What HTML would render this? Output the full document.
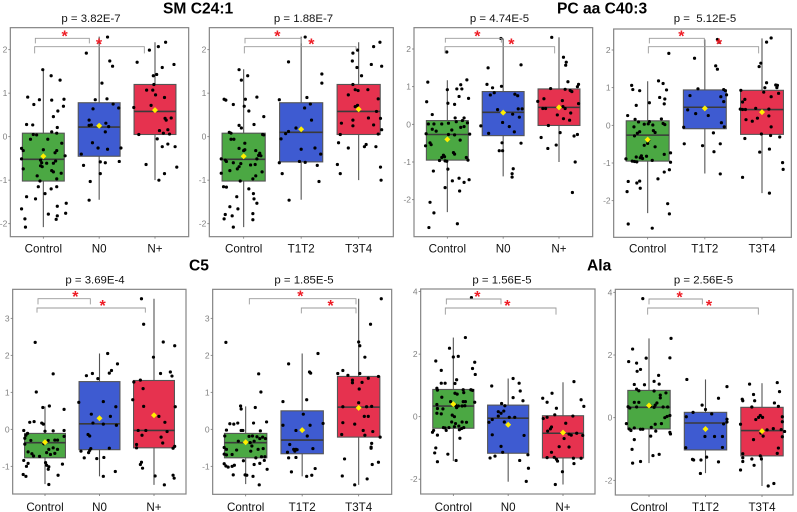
<!DOCTYPE html>
<html lang="en">
<head>
<meta charset="utf-8">
<title>Box plots of metabolites by group</title>
<style>
html,body{margin:0;padding:0;background:#fff;}
svg{display:block;font-family:"Liberation Sans",sans-serif;}
.head{font-size:15.6px;font-weight:bold;fill:#000;}
.pval{font-size:11.4px;fill:#111;text-anchor:middle;}
</style>
</head>
<body>
<svg id="chart" width="797" height="512" viewBox="0 0 797 512" xmlns="http://www.w3.org/2000/svg">
<rect width="797" height="512" fill="#fff"/>
<text class="head" x="163" y="13.5">SM C24:1</text>
<text class="head" x="557" y="13.5">PC aa C40:3</text>
<text class="head" x="189" y="270.5">C5</text>
<text class="head" x="587" y="270.5">Ala</text>
<text class="pval" x="91" y="22">p = 3.82E-7</text>
<text class="pval" x="303.500" y="22">p = 1.88E-7</text>
<text class="pval" x="499.500" y="22">p = 4.74E-5</text>
<text class="pval" x="705" y="22">p =&#160;&#160;5.12E-5</text>
<text class="pval" x="95" y="283.500">p = 3.69E-4</text>
<text class="pval" x="304" y="283.500">p = 1.85E-5</text>
<text class="pval" x="502" y="283.500">p = 1.56E-5</text>
<text class="pval" x="703.500" y="283.500">p = 2.56E-5</text>
<g id="panels"></g>
</svg>
<script>
const nCategories=['Control','N0','N+'];
const tCategories=['Control','T1T2','T3T4'];
const ticksA=[-2,-1,0,1,2];
const ticksB=[-1,0,1,2,3];
const ticksC=[-2,0,2,4];

/* box stats: low whisker, q1, median, q3, high whisker, mean */
const p1Box=[[-2.08,-1.02,-.52,.08,1.55,-.45],[-1.45,-.45,.22,.78,2.3,.25],[-1,.05,.58,1.2,2.17,.61]];
const p2Box=[[-2.08,-1.02,-.52,.08,1.55,-.45],[-1.45,-.58,.1,.78,2.3,.17],[-1,.05,.58,1.2,2.17,.63]];
const p3Box=[[-2.33,-.95,-.27,.1,1.17,-.4],[-1.38,-.3,.32,.87,2.28,.31],[-1,-.03,.45,.94,2.31,.45]];
const p4Box=[[-2.33,-.95,-.26,.12,1.17,-.38],[-1.28,-.09,.48,.94,2.28,.45],[-1.8,-.24,.42,.93,2.31,.35]];
const p5Box=[[-1.48,-.77,-.36,-.11,.62,-.35],[-1.27,-.55,.15,1.29,2.05,.3],[-1.5,-.5,-.03,1.32,3.53,.38]];
const p6Box=[[-1.48,-.77,-.36,-.11,.62,-.35],[-1.27,-.66,-.29,.5,2.05,-.02],[-1.5,-.21,.6,1.43,3.53,.58]];
const p7Box=[[-1.42,-.37,.34,.87,2.53,.4],[-2.08,-1.17,-.05,.37,1.22,-.26],[-2.17,-1.32,-.53,.03,1.1,-.51]];
const p8Box=[[-1.45,-.36,.33,.87,2.53,.39],[-1.77,-1.03,-.17,.17,1.22,-.36],[-2.18,-1.22,-.41,.33,1.1,-.43]];

/* observations: [horizontal jitter in category units, value] */
const p1Control=[[-.01,1.54],[.14,1.4],[.3,1.3],[-.28,.91],[-.07,.85],[-.17,.74],[.15,.84],[.37,.86],[.36,.7],[.26,.59],[.18,.46],[-.3,.28],[-.19,.27],[.25,.21],[.15,.11],[.24,.08],[-.18,.05],[-.12,.04],[-.23,-.06],[.08,-.06],[.33,-.15],[-.39,-.27],[-.36,-.32],[0,-.3],[.24,-.32],[.21,-.37],[.39,-.44],[-.39,-.51],[-.05,-.54],[-.03,-.6],[.06,-.61],[.18,-.61],[.22,-.56],[-.05,-.67],[-.02,-.69],[-.36,-.74],[.15,-.78],[.18,-.81],[.32,-.84],[-.11,-.9],[.24,-.97],[-.06,-1.02],[-.09,-1.15],[.24,-1.15],[.14,-1.2],[.03,-1.31],[-.3,-1.38],[-.14,-1.43],[.41,-1.53],[.25,-1.6],[-.39,-1.66],[.09,-1.78],[.25,-1.82],[.4,-1.76],[-.33,-1.89],[.23,-1.9],[-.32,-2.08]];
const p1N0=[[.15,2.29],[-.23,1.92],[.19,1.74],[.24,1.62],[.05,1.23],[-.07,.85],[.14,.87],[.25,.75],[.35,.66],[-.11,.64],[-.18,.38],[-.18,.26],[-.14,.27],[.12,.31],[.17,.23],[.11,.11],[-.12,-.14],[-.02,-.26],[.15,-.29],[.39,-.26],[-.32,-.4],[-.28,-.66],[.02,-.58],[.11,-.6],[.36,-.57],[.02,-.85],[-.16,-1.03],[-.18,-1.46]];
const p1Nplus=[[.19,2.17],[.06,2.07],[-.1,1.99],[-.32,1.71],[.34,1.66],[.13,1.59],[.03,1.43],[-.03,1.4],[-.02,1.2],[-.15,1.07],[-.04,1.07],[.01,.96],[.17,.9],[-.38,.67],[-.07,.72],[.18,.42],[.2,.38],[.29,.43],[.08,.14],[.23,.16],[.15,.08],[.26,.06],[-.29,.05],[.04,-.05],[.23,-.17],[.13,-.23],[.36,-.23],[-.16,-.64],[.39,-.7],[.17,-.85],[.07,-1]];

const p2Control=[[-.08,1.54],[.07,1.4],[-.04,1.3],[.23,.91],[-.34,.86],[-.31,.84],[.03,.86],[-.18,.74],[.01,.7],[.09,.59],[.35,.46],[.18,.28],[-.08,.26],[-.04,.2],[-.25,.1],[-.22,.08],[.33,.05],[.35,.04],[-.22,-.06],[-.17,-.06],[.02,-.15],[-.08,-.27],[.02,-.3],[0,-.32],[.21,-.32],[.28,-.38],[.26,-.43],[.3,-.44],[-.39,-.51],[.23,-.51],[-.32,-.54],[-.3,-.57],[-.18,-.6],[-.05,-.62],[.12,-.65],[.2,-.64],[-.08,-.69],[-.11,-.74],[-.24,-.78],[-.39,-.84],[.32,-.81],[.21,-.9],[.16,-.97],[-.06,-1.02],[-.35,-1.15],[-.3,-1.16],[.09,-1.2],[.17,-1.31],[-.12,-1.38],[.18,-1.43],[.23,-1.53],[-.24,-1.61],[-.1,-1.66],[-.2,-1.82],[-.32,-1.79],[-.34,-1.89],[.16,-1.77],[.16,-1.91],[-.18,-2.08]];
const p2T1T2=[[.07,2.29],[-.22,1.72],[.36,1.44],[.36,1.23],[.1,.9],[-.38,.85],[.16,.75],[.06,.66],[.18,.38],[-.09,.2],[-.22,.12],[-.27,.07],[-.35,-.05],[0,-.29],[.24,-.26],[.34,-.4],[-.38,-.6],[-.03,-.57],[.07,-.59],[.28,-.66],[-.33,-.85],[.31,-1.03],[-.21,-1.46]];
const p2T3T4=[[.37,2.17],[-.02,1.99],[-.1,1.92],[.26,2.07],[-.11,1.74],[.22,1.66],[.4,1.62],[-.03,1.59],[.05,1.4],[-.1,1.2],[-.06,1.08],[-.01,1.06],[.16,1.08],[-.18,.96],[.34,.87],[-.02,.72],[-.06,.69],[.31,.58],[.17,.43],[.38,.42],[-.1,.38],[-.3,.31],[-.1,.25],[.26,.27],[.4,.16],[.34,.06],[-.32,.05],[-.35,-.14],[-.18,-.26],[.13,-.18],[.1,-.23],[.3,-.23],[-.37,-.64],[.38,-.7],[-.32,-.85],[.39,-1]];

const p3Control=[[-.01,1.92],[-.35,1.12],[.35,1.18],[.24,1.05],[0,.92],[.17,.94],[.26,.94],[.21,.74],[.38,.69],[-.37,.6],[.01,.56],[.13,.53],[-.27,.26],[.14,.17],[.3,.17],[-.34,.01],[-.24,.01],[-.1,.01],[.02,.03],[.16,.07],[.27,.1],[.36,.04],[-.27,-.13],[-.2,-.18],[.08,-.15],[.24,-.08],[.3,-.06],[-.38,-.25],[.02,-.27],[.13,-.28],[.4,-.26],[-.31,-.49],[-.29,-.54],[-.39,-.57],[.23,-.42],[.11,-.75],[.13,-.79],[-.07,-.82],[-.1,-.88],[-.05,-.86],[.34,-.88],[.37,-.95],[-.14,-.96],[-.04,-.97],[-.01,-.98],[.01,-1.19],[-.25,-1.24],[.09,-1.5],[.21,-1.43],[.3,-1.54],[.39,-1.47],[-.04,-1.68],[.22,-1.77],[-.31,-2.07],[-.24,-2.35],[.18,-2.64],[-.33,-2.74]];
const p3N0=[[-.04,2.28],[.32,1.58],[-.27,1.5],[-.29,1.06],[-.19,.97],[-.03,1.01],[-.23,.78],[-.16,.84],[.21,.8],[.26,.76],[-.1,.39],[.27,.41],[.34,.41],[.17,.27],[.29,.19],[-.01,.05],[-.4,-.04],[.11,-.06],[-.26,-.24],[.2,-.2],[-.02,-.49],[.32,-.5],[-.07,-.7],[-.01,-.7],[.18,-1.18],[.16,-1.31],[.16,-1.4]];
const p3Nplus=[[-.13,2.31],[.08,1.78],[.13,1.65],[.12,1.57],[.16,1.13],[.35,1.06],[.33,1],[-.15,.95],[.11,.93],[.2,.9],[.23,.87],[-.27,.68],[-.38,.61],[.06,.63],[.35,.55],[-.29,.42],[-.24,.42],[.07,.47],[.11,.42],[.21,.3],[-.03,.25],[.08,.15],[.19,.11],[-.19,-.03],[.02,-.22],[.27,-.31],[.33,-.27],[-.32,-.35],[-.2,-.64],[-.05,-.55],[.29,-1],[.24,-1.81]];

const p4Control=[[.37,1.91],[.19,1.18],[.27,1.11],[-.28,1.06],[-.26,.95],[-.14,.92],[.33,.94],[.21,.74],[.3,.7],[.29,.57],[-.2,.53],[.03,.6],[-.35,.26],[-.22,.16],[.24,.17],[-.16,.09],[.03,.1],[-.06,.03],[.01,.04],[.09,.01],[.27,.05],[.3,.02],[-.24,-.04],[-.14,-.17],[-.18,-.21],[.1,-.14],[.13,-.19],[-.23,-.28],[.02,-.39],[-.06,-.53],[.13,-.57],[0,-.48],[.29,-.77],[.4,-.73],[-.2,-.84],[-.11,-.81],[-.13,-.86],[-.02,-.82],[-.38,-.89],[-.09,-.88],[-.27,-.95],[-.23,-.96],[-.19,-.97],[.08,-.93],[.4,-.98],[.29,-1.24],[.38,-1.18],[.18,-1.42],[-.34,-1.49],[-.14,-1.48],[-.19,-1.53],[-.13,-1.67],[-.36,-1.76],[.35,-2.08],[.38,-2.35],[-.34,-2.62],[.08,-2.73]];
const p4T1T2=[[.22,2.28],[.25,2.21],[-.18,1.78],[.19,1.58],[.22,1.49],[-.12,.97],[.33,.95],[.36,.92],[.38,.81],[.28,.76],[-.26,.79],[.33,.63],[-.3,.41],[-.16,.31],[.06,.26],[.29,.07],[.34,-.04],[-.37,-.05],[.15,-.2],[-.36,-.49],[.27,-.49],[-.04,-.54],[.16,-.7],[.27,-1.29]];
const p4T3T4=[[.16,2.32],[.08,2.21],[-.02,1.65],[-.05,1.56],[.08,1.13],[.24,1.07],[.27,1.06],[.05,1],[.26,1],[-.37,.93],[.03,.88],[.16,.76],[.29,.85],[-.3,.69],[-.34,.62],[-.38,.43],[-.34,.42],[-.29,.42],[-.11,.45],[.12,.43],[-.28,.15],[-.17,.11],[-.08,.19],[.12,.25],[.16,-.04],[-.01,-.23],[.15,-.27],[.31,-.31],[-.3,-.35],[.13,-.63],[-.04,-.71],[.36,-.99],[.37,-1.17],[-.34,-1.38],[.13,-1.8]];

const p5Control=[[-.18,2.35],[.15,1.5],[-.16,1.01],[.08,.63],[-.04,.59],[.35,.54],[-.28,.19],[-.2,.21],[-.06,.17],[-.03,.14],[-.39,-.03],[.15,-.04],[.35,-.03],[-.32,-.11],[0,-.05],[-.35,-.16],[-.37,-.24],[-.26,-.3],[.06,-.3],[.18,-.29],[.23,-.29],[.35,-.19],[-.37,-.4],[-.02,-.39],[.15,-.5],[.07,-.54],[.23,-.54],[-.31,-.61],[-.24,-.66],[-.21,-.72],[-.1,-.73],[.03,-.63],[.1,-.68],[.18,-.65],[-.39,-.84],[-.31,-.92],[-.34,-1],[.01,-.9],[.03,-.97],[.07,-1.01],[.06,-1.08],[.32,-.94],[-.4,-1.22],[-.35,-1.27],[.24,-1.24],[.07,-1.49]];
const p5N0=[[.15,2.05],[.33,1.77],[.22,1.59],[.18,1.52],[-.13,1.51],[-.24,1.45],[-.03,1.37],[-.38,.73],[.07,.75],[.3,.61],[-.15,.41],[.2,.35],[-.12,.17],[.07,.14],[.31,.11],[-.21,-.14],[-.18,-.18],[-.34,-.59],[-.16,-.52],[-.18,-.57],[-.2,-.63],[.18,-.51],[-.28,-.77],[-.05,-.79],[.08,-.76],[.29,-1.14],[.07,-1.27]];
const p5Nplus=[[-.23,3.53],[-.19,2.84],[.17,2.36],[.38,2.26],[-.01,1.95],[.12,1.51],[.3,1.55],[.33,1.44],[-.37,1.28],[-.25,1.33],[-.2,1.1],[-.39,.8],[-.19,.62],[.39,.61],[.09,.35],[.2,.19],[-.29,-.03],[-.15,-.03],[-.22,-.16],[.13,-.21],[.24,-.06],[.16,-.37],[-.32,-.41],[-.32,-.5],[.38,-.46],[.35,-.51],[-.23,-.89],[-.25,-.95],[-.21,-1.05],[.02,-1.26],[.35,-1.24],[.37,-1.32],[.19,-1.5]];

const p6Control=[[-.35,2.35],[.23,1.5],[.27,1.01],[-.09,.63],[-.08,.55],[.17,.59],[.37,.2],[-.28,.15],[-.21,.14],[-.14,.17],[.14,.17],[-.34,-.02],[-.08,-.03],[-.05,-.03],[.26,-.04],[-.37,-.18],[.12,-.18],[.06,-.19],[.2,-.2],[.3,-.21],[.25,-.25],[.35,-.25],[-.13,-.32],[.15,-.32],[.08,-.36],[-.38,-.49],[-.34,-.54],[-.16,-.56],[.11,-.45],[.22,-.54],[.31,-.52],[.09,-.59],[-.38,-.67],[-.34,-.69],[-.24,-.68],[.18,-.77],[.28,-.74],[.34,-.74],[-.04,-.85],[.33,-.84],[-.38,-.93],[-.35,-.99],[-.31,-1.02],[-.24,-1],[-.2,-.97],[.15,-.95],[.25,-.92],[.38,-1.08],[-.22,-1.23],[-.01,-1.23],[.02,-1.24],[.13,-1.27],[.24,-1.5]];
const p6T1T2=[[.28,2.05],[-.24,1.77],[.13,1.55],[.15,1.52],[-.34,.75],[.08,.8],[.02,.41],[.37,.16],[-.34,.11],[.14,.11],[-.11,-.03],[.09,-.18],[-.22,-.41],[.19,-.52],[-.15,-.54],[-.11,-.54],[-.13,-.59],[-.26,-.62],[-.09,-.55],[-.24,-.77],[-.11,-.76],[-.19,-1.15],[.23,-1.06],[.17,-1.24],[.08,-1.27]];
const p6T3T4=[[.4,3.53],[.21,2.84],[0,2.36],[.02,2.26],[.11,1.95],[-.37,1.51],[-.28,1.59],[-.19,1.46],[.02,1.51],[.35,1.43],[.17,1.38],[-.11,1.33],[-.11,1.26],[.06,1.27],[.01,1.09],[0,.72],[-.28,.61],[.14,.61],[.23,.62],[.1,.35],[.17,.35],[-.28,.18],[-.07,.14],[.08,-.03],[.25,-.06],[-.3,-.14],[.11,-.16],[.38,-.21],[.23,-.38],[.22,-.48],[.22,-.51],[-.25,-.8],[.24,-.95],[.35,-.89],[-.29,-1.26],[.15,-1.34],[-.07,-1.5]];

const p7Control=[[.33,3.81],[.22,2.53],[-.07,2.19],[0,1.91],[.09,1.93],[-.32,1.78],[.39,1.74],[-.22,1.48],[.35,1.54],[.4,1.35],[.06,1.18],[-.22,1.07],[-.15,1.07],[.03,1.06],[-.3,.91],[-.29,.85],[.18,.86],[.32,.86],[.35,.84],[.03,.75],[.07,.72],[.19,.77],[-.21,.62],[-.05,.48],[.18,.48],[.22,.48],[.39,.46],[.04,.37],[-.3,.39],[.09,.34],[.16,.34],[.21,.35],[-.29,.26],[-.19,.25],[.06,.29],[-.3,.11],[-.22,.09],[-.02,.05],[.02,0],[-.03,-.17],[.04,-.22],[.16,-.17],[.24,-.18],[.02,-.32],[-.18,-.35],[-.15,-.36],[-.08,-.35],[.1,-.3],[.15,-.38],[.11,-.42],[.19,-.35],[-.36,-.44],[-.38,-.5],[-.13,-.44],[-.29,-.59],[.12,-.69],[-.32,-1],[-.34,-1.16],[-.1,-1.2],[-.29,-1.44],[.05,-1.4]];
const p7N0=[[.09,1.22],[.2,1.07],[-.3,.98],[.22,.82],[.09,.61],[.27,.51],[-.12,.42],[-.06,.35],[-.08,.18],[-.18,.16],[-.13,.11],[-.35,-.18],[-.29,-.09],[-.18,.02],[.02,-.02],[.12,-.02],[-.07,-.17],[-.29,-.58],[.29,-.6],[-.13,-.95],[.36,-1.22],[-.1,-1.14],[-.24,-1.26],[-.33,-1.32],[.21,-1.4],[.37,-1.65],[.33,-2.07]];
const p7Nplus=[[.2,1.12],[-.2,.75],[-.37,.59],[.33,.54],[-.29,.46],[.38,.33],[-.12,.27],[-.15,.06],[.18,.02],[-.36,-.06],[-.29,-.02],[.05,-.21],[-.21,-.33],[-.23,-.39],[-.28,-.46],[.02,-.7],[.11,-.56],[.15,-.59],[.25,-.53],[.36,-.6],[-.07,-.96],[.11,-.97],[-.21,-1.14],[-.29,-1.31],[-.16,-1.3],[-.12,-1.36],[-.1,-1.42],[.19,-1.33],[.33,-1.33],[.2,-1.5],[-.01,-1.76],[-.14,-2.17]];

const p8Control=[[-.11,3.8],[.39,2.53],[-.29,2.19],[-.05,1.9],[.37,1.91],[-.36,1.79],[-.22,1.74],[-.15,1.54],[-.21,1.48],[.17,1.35],[.09,1.16],[.18,1.07],[-.26,1.06],[-.08,1.05],[-.22,.91],[-.18,.86],[.09,.85],[.3,.79],[.2,.72],[.2,.63],[-.26,.49],[-.18,.49],[.14,.47],[.11,.4],[-.37,.35],[-.34,.31],[-.22,.34],[.03,.37],[.09,.33],[.25,.34],[.33,.34],[.37,.07],[.32,.04],[.28,0],[-.4,-.19],[-.35,-.36],[-.32,-.41],[-.26,-.33],[-.15,-.37],[-.11,-.37],[.04,-.31],[.11,-.21],[.22,-.19],[.12,-.43],[.37,-.47],[.38,-.52],[.03,-.59],[-.26,-.7],[-.3,-1.01],[.07,-1.21],[.18,-1.17],[-.29,-1.45],[-.15,-1.4]];
const p8T1T2=[[-.33,1.22],[.38,.99],[.23,.62],[-.06,.4],[0,.26],[-.22,.17],[.11,.12],[-.34,.03],[.38,-.05],[.38,-.14],[.32,-.2],[-.01,-.6],[.16,-.6],[.3,-.6],[-.35,-.96],[.3,-.95],[-.23,-1.33],[-.21,-1.35],[-.08,-1.35],[.02,-1.26],[.23,-1.41],[-.09,-1.78]];
const p8T3T4=[[-.22,1.07],[.27,1.12],[.31,.83],[-.15,.74],[-.35,.59],[-.34,.54],[-.13,.54],[.22,.47],[.29,.36],[-.18,.34],[-.06,.01],[-.03,.07],[.01,.01],[-.11,-.06],[.36,.03],[.36,-.13],[-.38,-.21],[.09,-.39],[.2,-.35],[.34,-.38],[.4,-.44],[-.02,-.49],[.02,-.59],[-.15,-.7],[.36,-.61],[.29,-.97],[.27,-1.14],[-.34,-1.15],[-.34,-1.28],[-.34,-1.4],[-.18,-1.32],[-.03,-1.22],[-.01,-1.32],[-.14,-1.52],[-.38,-1.67],[.21,-2.1],[.11,-2.18]];

const fills=['#4ba843','#3e5bd1','#e6324f'];
const U=1/3;
const panels=[
 {id:'sm-n',cats:nCategories,ticks:ticksA,box:p1Box,pts:[p1Control,p1N0,p1Nplus],ox:0,oy:0,l:31,r:566,t:83,b:710,c0:130,step:167.5,y0:410,unit:130.5,lab:252.5,br:[[106,268,115,130,130],[104,433,140,160,160]],st:[[194,103],[297,126]]},
 {id:'sm-t',cats:tCategories,ticks:ticksA,box:p2Box,pts:[p2Control,p2T1T2,p2T3T4],ox:200,oy:0,l:28,r:580,t:83,b:710,c0:131,step:172.5,y0:410,unit:130.5,lab:252.5,br:[[135,303,115,130,130],[133,468,140,160,150]],st:[[232,103],[334,126]]},
 {id:'pc-n',cats:nCategories,ticks:ticksA,box:p3Box,pts:[p3Control,p3N0,p3Nplus],ox:400,oy:0,l:42,r:578,t:83,b:710,c0:142,step:167.5,y0:373,unit:113,lab:252.5,br:[[136,304,115,128,128],[135,464,140,160,160]],st:[[232,103],[334,126]]},
 {id:'pc-t',cats:tCategories,ticks:ticksA,box:p4Box,pts:[p4Control,p4T1T2,p4T3T4],ox:597,oy:0,l:50,r:583,t:87,b:712,c0:152,step:171.5,y0:376,unit:113,lab:252.5,br:[[157,322,115,130,130],[154,485,140,160,160]],st:[[253,103],[366,126]]},
 {id:'c5-n',cats:nCategories,ticks:ticksB,box:p5Box,pts:[p5Control,p5N0,p5Nplus],ox:0,oy:256,l:38,r:558,t:100,b:714,c0:135,step:163.5,y0:520,unit:111,lab:255,br:[[114,271,128,145,145],[111,436,156,170,170]],st:[[226,116],[308,143]]},
 {id:'c5-t',cats:tCategories,ticks:ticksB,box:p6Box,pts:[p6Control,p6T1T2,p6T3T4],ox:200,oy:256,l:38,r:575,t:100,b:715,c0:137,step:169.5,y0:520,unit:111,lab:255,br:[[148,468,128,145,145],[304,468,156,172,172]],st:[[301,115],[392,143]]},
 {id:'ala-n',cats:nCategories,ticks:ticksC,box:p7Box,pts:[p7Control,p7N0,p7Nplus],ox:400,oy:256,l:62,r:585,t:99,b:714,c0:160,step:164.5,y0:482,unit:93.8,lab:255,br:[[139,303,129,145,145],[136,468,156,176,176]],st:[[232,116],[322,143]]},
 {id:'ala-t',cats:tCategories,ticks:ticksC,box:p8Box,pts:[p8Control,p8T1T2,p8T3T4],ox:597,oy:256,l:55,r:588,t:100,b:717,c0:156,step:169.5,y0:485,unit:94,lab:255,br:[[156,316,129,145,145],[152,484,156,176,176]],st:[[248,117],[336,143]]}
];

const NS='http://www.w3.org/2000/svg';
function mk(parent,tag,props){
  const el=document.createElementNS(NS,tag);
  for(const k in props){el.setAttribute(k,props[k]);}
  parent.appendChild(el);
  return el;
}
const root=document.getElementById('panels');

panels.forEach(function(p){
  const px=function(z){return p.ox+z*U;};
  const py=function(z){return p.oy+z*U;};
  const xScale=function(cat){return px(p.c0+p.step*cat);};
  const yScale=function(v){return py(p.y0-p.unit*v);};
  const step=p.step*U;
  const halfBox=0.375*step;

  const g=mk(root,'g',{});
  
  

  const frame=mk(g,'rect',{x:px(p.l),y:py(p.t),width:(p.r-p.l)*U,height:(p.b-p.t)*U,fill:'#fff',stroke:'#858585','stroke-width':1.2});
  
  

  p.ticks.forEach(function(t){
    const mark=mk(g,'line',{x1:px(p.l)-2,x2:px(p.l),y1:yScale(t),y2:yScale(t),stroke:'#777','stroke-width':0.8});
    
    
    const label=mk(g,'text',{x:px(p.l)-3,y:yScale(t)+3,'text-anchor':'end','font-size':8.5,fill:'#808080'});
    label.textContent=String(t);
    
    
  });

  p.cats.forEach(function(name,i){
    const cx=xScale(i);
    const b=p.box[i];
    const whisk=mk(g,'line',{x1:cx,x2:cx,y1:yScale(b[0]),y2:yScale(b[4]),stroke:'#555','stroke-width':1.1});
    
    
    const rect=mk(g,'rect',{x:cx-halfBox,y:yScale(b[3]),width:halfBox*2,height:yScale(b[1])-yScale(b[3]),fill:fills[i],stroke:'#555','stroke-width':1.1});
    
    
    const med=mk(g,'line',{x1:cx-halfBox,x2:cx+halfBox,y1:yScale(b[2]),y2:yScale(b[2]),stroke:'#3a3a3a','stroke-width':1.6});
    
    

    p.pts[i].forEach(function(o){
      const dot=mk(g,'circle',{cx:xScale(i+o[0]),cy:yScale(o[1]),r:1.6,fill:'#000'});
      
      
    });

    const mx=cx,my=yScale(b[5]);
    const mean=mk(g,'polygon',{points:(mx-3)+','+my+' '+mx+','+(my-3)+' '+(mx+3)+','+my+' '+mx+','+(my+3),fill:'#ffee00'});
    
    

    const tick=mk(g,'line',{x1:cx,x2:cx,y1:py(p.b),y2:py(p.b)+2,stroke:'#777','stroke-width':0.8});
    
    
    const lab=mk(g,'text',{x:cx,y:p.oy+p.lab,'text-anchor':'middle','font-size':11.6,fill:'#111'});
    lab.textContent=name;
    
    
  });

  p.br.forEach(function(c){
    const d='M'+px(c[0])+' '+py(c[3])+'V'+py(c[2])+'H'+px(c[1])+'V'+py(c[4]);
    const path=mk(g,'path',{d:d,fill:'none',stroke:'#9a9a9a','stroke-width':0.9});
    
    
  });
  p.st.forEach(function(s){
    const star=mk(g,'text',{x:px(s[0]),y:py(s[1])+7.4,'text-anchor':'middle','font-size':16,'font-weight':'bold',fill:'#ee1c25'});
    star.textContent='*';
    
    
  });
});
</script>
</body>
</html>
